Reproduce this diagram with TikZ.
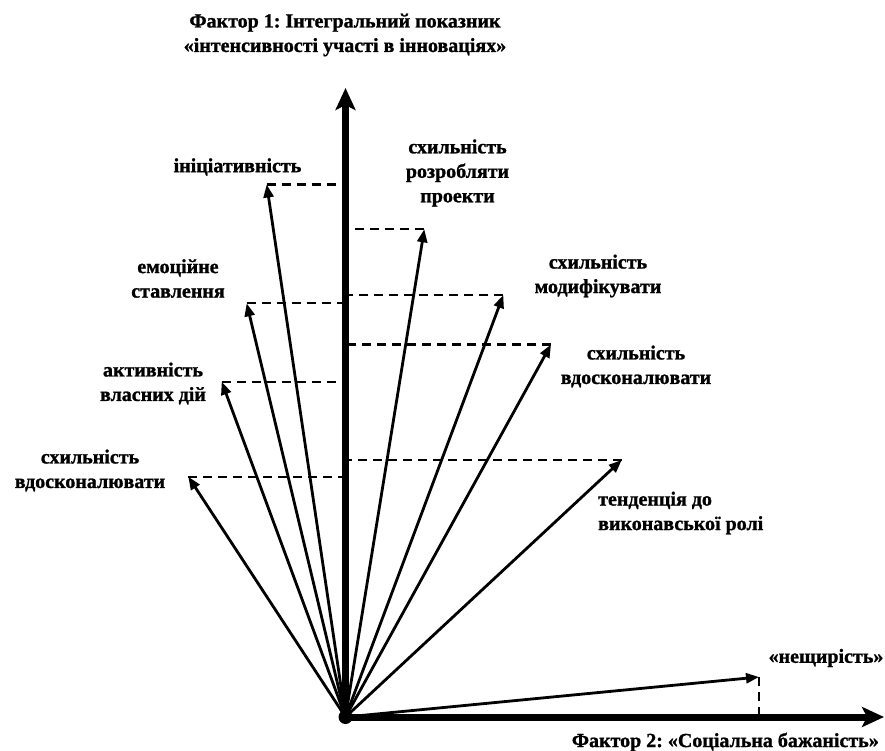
\documentclass[tikz,border=0pt]{standalone}
\usepackage{fontspec}
\setmainfont{Liberation Serif}[BoldFeatures={FakeBold=1.2}]
\usetikzlibrary{arrows.meta}
\frenchspacing
\begin{document}
\begin{tikzpicture}[x=1pt,y=-1pt,
  lbl/.style={font=\bfseries\fontsize{20}{24.5}\selectfont, align=center, inner sep=0pt},
  vec/.style={line width=2.8pt, -{Triangle[length=13pt,width=10pt]}},
  axisline/.style={line width=7pt, -{Stealth[length=22pt,width=20pt,inset=5pt]}},
  proj/.style={line width=2.2pt, dash pattern=on 9pt off 6pt}]
\useasboundingbox (0,0) rectangle (885,751);

\coordinate (O) at (345.5,717);
\coordinate (ytip) at (345.5,88);
\coordinate (xtip) at (884,717);

% vector tips
\coordinate (t1) at (266.7,184.5);
\coordinate (t2) at (424.3,229.3);
\coordinate (t3) at (503.3,295);
\coordinate (t4) at (246.7,303.3);
\coordinate (t5) at (551,344.5);
\coordinate (t6) at (221.7,381.7);
\coordinate (t7) at (621.7,460);
\coordinate (t8) at (188.3,476.7);
\coordinate (t9) at (759,677);

% projections
\foreach \t in {t1,t2,t3,t4,t5,t6,t7,t8}
  \draw[proj] (\t) -- (\t -| O);
\draw[proj] (t9) -- (t9 |- O);

% axes
\draw[axisline] (O) -- (ytip);
\draw[axisline] (O) -- (xtip);

% vectors
\foreach \t in {t1,t2,t3,t4,t5,t6,t7,t8,t9}
  \draw[vec] (O) -- (\t);

\node[circle, fill, minimum size=14pt, inner sep=0pt] (dot) at (O) {};

% labels
\node[lbl] (f1) at (345,35) {Фактор 1: Інтегральний показник\\«інтенсивності участі в інноваціях»};
\node[lbl, anchor=east] (f2) at (879,742) {Фактор 2: «Соціальна бажаність»};
\node[lbl] (n9) at (826,658) {«нещирість»};
\node[lbl] (n1) at (237.5,167) {ініціативність};
\node[lbl] (n2) at (457.5,173) {схильність\\розробляти\\проекти};
\node[lbl] (n3) at (598,276) {схильність\\модифікувати};
\node[lbl] (n4) at (178,278.5) {емоційне\\ставлення};
\node[lbl] (n5) at (636,366.5) {схильність\\вдосконалювати};
\node[lbl] (n6) at (153,383.5) {активність\\власних дій};
\node[lbl, align=left, anchor=west] (n7) at (598,513) {тенденція до\\виконавської ролі};
\node[lbl] (n8) at (90,470.5) {схильність\\вдосконалювати};
\end{tikzpicture}
\end{document}
